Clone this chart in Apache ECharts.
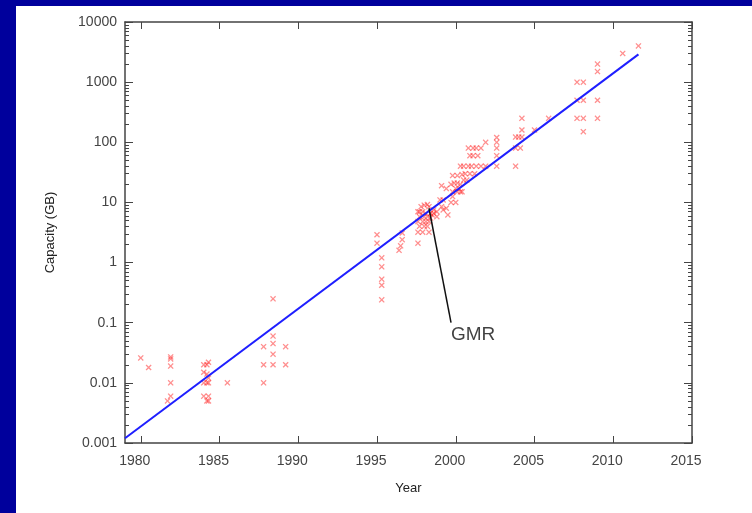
<!DOCTYPE html>
<html>
<head>
<meta charset="utf-8">
<script src="https://cdn.jsdelivr.net/npm/echarts@6/dist/echarts.min.js"></script>
<style>
  html, body { margin: 0; padding: 0; background: #00009c; }
  #panel { position: absolute; left: 16px; top: 6px; right: 0; bottom: 0; background: #fff; }
  #chart { position: absolute; left: 0; top: 0; width: 752px; height: 513px; }
</style>
</head>
<body>
<div id="panel"></div>
<div id="chart"></div>
<script>
// hard drive capacities, [year, GB]
var drives1980s = [
  [1980.0, 0.026], [1980.5, 0.018],
  [1981.9, 0.027], [1981.9, 0.025], [1981.9, 0.019], [1981.9, 0.01], [1981.9, 0.006], [1981.7, 0.005],
  [1984.0, 0.02], [1984.2, 0.02], [1984.3, 0.022], [1984.0, 0.015], [1984.2, 0.014], [1984.3, 0.012],
  [1984.0, 0.01], [1984.2, 0.01], [1984.3, 0.01], [1984.0, 0.006], [1984.3, 0.006], [1984.2, 0.005], [1984.3, 0.005],
  [1985.5, 0.01],
  [1987.8, 0.04], [1987.8, 0.02], [1987.8, 0.01],
  [1988.4, 0.25], [1988.4, 0.06], [1988.4, 0.045], [1988.4, 0.03], [1988.4, 0.02],
  [1989.2, 0.04], [1989.2, 0.02]
]
var drives1990s = [
  [1995.0, 2.9], [1995.0, 2.1], [1995.3, 1.2], [1995.3, 0.85], [1995.3, 0.53], [1995.3, 0.42], [1995.3, 0.24],
  [1996.6, 3.1], [1996.6, 2.4], [1996.5, 1.9], [1996.4, 1.6],
  [1997.6, 2.1],
  [1997.6, 7], [1997.8, 8.5], [1998.0, 9], [1998.2, 9.2], [1998.3, 8.5],
  [1997.7, 7], [1997.9, 7], [1998.1, 6.6], [1998.4, 6.6], [1998.6, 6.6],
  [1997.7, 5.8], [1998.0, 5.8], [1998.2, 5.8], [1998.4, 5.5],
  [1997.6, 4.8], [1997.9, 4.8], [1998.1, 4.8], [1998.3, 4.8],
  [1997.7, 4], [1998.0, 4], [1998.2, 4],
  [1997.6, 3.2], [1997.9, 3.2], [1998.3, 3.2],
  [1998.6, 7.5], [1998.8, 7], [1998.5, 6.2], [1998.8, 5.8],
  [1999.1, 8.5], [1999.2, 7.5], [1999.4, 8], [1999.5, 6.2], [1999.0, 11], [1999.2, 11],
  [1999.7, 10], [1999.8, 12.5], [1999.8, 15], [1999.7, 20], [1999.9, 21],
  [1999.1, 19], [1999.4, 17], [1999.8, 28]
]
var drives2000s = [
  [2000.0, 10], [2000.1, 15], [2000.3, 15], [2000.4, 15],
  [2000.1, 21], [2000.3, 20], [2000.0, 17], [2000.2, 17], [2000.5, 23.5], [2000.7, 23.5],
  [2000.1, 28], [2000.4, 29], [2000.6, 30], [2000.9, 30], [2001.2, 30],
  [2000.3, 40], [2000.5, 40], [2000.8, 40], [2001.0, 40], [2001.3, 40], [2001.6, 40], [2001.9, 40],
  [2000.9, 60], [2001.1, 60], [2001.4, 60], [2002.6, 60],
  [2000.8, 80], [2001.1, 80], [2001.3, 80], [2001.6, 80],
  [2001.9, 100], [2002.6, 120], [2002.6, 100], [2002.6, 80], [2002.6, 40],
  [2003.8, 122], [2004.0, 122], [2004.2, 122], [2003.8, 80], [2004.1, 80],
  [2004.2, 250], [2004.2, 160], [2003.8, 40]
]
var drives2005on = [
  [2005.0, 160], [2005.9, 250],
  [2007.7, 1000], [2008.1, 1000], [2007.7, 500], [2008.1, 500], [2009.0, 500],
  [2007.7, 250], [2008.1, 250], [2009.0, 250], [2008.1, 150],
  [2009.0, 2000], [2009.0, 1500], [2010.6, 3000], [2011.6, 4000]
]

// fitted trend line
var trendYears = [1979, 2011.6]
var trendGB = [0.0012, 2900]

// GMR annotation
var gmrLine = [[1998.3, 8], [1999.7, 0.1]]
var gmrLabel = [2001.1, 0.063]

var xTicks = [1980, 1985, 1990, 1995, 2000, 2005, 2010, 2015]
var yTicks = [0.001, 0.01, 0.1, 1, 10, 100, 1000, 10000]

var yMinor = []
for (var i = 0; i < yTicks.length - 1; i++) {
  for (var m = 2; m <= 9; m++) {
    yMinor.push(Number((yTicks[i] * m).toPrecision(3)))
  }
}

var allDrives = drives1980s.concat(drives1990s, drives2000s, drives2005on)
var trendData = trendYears.map(function (y, i) { return [y, trendGB[i]] })

var axisColor = '#444'
var crossPath = 'path://M0,1.5L1.5,0L5,3.5L8.5,0L10,1.5L6.5,5L10,8.5L8.5,10L5,6.5L1.5,10L0,8.5L3.5,5Z'

function yAxisDef (pos, minor) {
  return {
    type: 'log',
    logBase: 10,
    min: 0.001,
    max: 10000,
    position: pos,
    name: (pos === 'left' && !minor) ? 'Capacity (GB)' : '',
    nameLocation: 'middle',
    nameGap: 68,
    nameTextStyle: { fontSize: 13, color: '#222', fontFamily: 'Liberation Sans' },
    axisLine: { show: !minor, lineStyle: { color: axisColor, width: 1.5 } },
    axisTick: minor
      ? { show: true, inside: true, length: 4, customValues: yMinor, lineStyle: { color: axisColor } }
      : { show: true, inside: true, length: 8, customValues: yTicks, lineStyle: { color: axisColor } },
    axisLabel: {
      show: pos === 'left' && !minor,
      customValues: yTicks,
      fontSize: 14,
      color: '#444',
      fontFamily: 'Liberation Sans',
      margin: 8,
      formatter: function (v) { return String(Number(v.toPrecision(1))) }
    },
    splitLine: { show: false }
  }
}

function xAxisDef (pos) {
  return {
    type: 'value',
    min: 1979,
    max: 2015,
    position: pos,
    name: pos === 'bottom' ? 'Year' : '',
    nameLocation: 'middle',
    nameGap: 39,
    nameTextStyle: { fontSize: 13, color: '#222', fontFamily: 'Liberation Sans' },
    axisLine: { show: true, onZero: false, lineStyle: { color: axisColor, width: 1.5 } },
    axisTick: { show: true, inside: true, length: 7, customValues: xTicks, lineStyle: { color: axisColor } },
    axisLabel: {
      show: pos === 'bottom',
      customValues: xTicks,
      fontSize: 14,
      color: '#444',
      fontFamily: 'Liberation Sans',
      margin: 11,
      padding: [0, 12, 0, 0],
      formatter: function (v) { return String(v) }
    },
    splitLine: { show: false }
  }
}

var myChart = echarts.init(document.getElementById('chart'))
var option = {
  animation: false,
  backgroundColor: 'transparent',
  grid: { left: 125, right: 60, top: 22, bottom: 70 },
  xAxis: [xAxisDef('bottom'), xAxisDef('top')],
  yAxis: [yAxisDef('left', false), yAxisDef('right', false), yAxisDef('left', true), yAxisDef('right', true)],
  series: [
    {
      name: 'drives',
      type: 'scatter',
      symbol: crossPath,
      symbolSize: 6,
      itemStyle: { color: 'rgba(255, 20, 20, 0.6)' },
      data: allDrives,
      z: 2
    },
    {
      name: 'trend',
      type: 'line',
      symbol: 'none',
      lineStyle: { color: '#1f1fff', width: 2 },
      data: trendData,
      z: 3
    },
    {
      name: 'gmr',
      type: 'line',
      symbol: 'none',
      lineStyle: { color: '#111', width: 1.5 },
      data: gmrLine,
      z: 4
    },
    {
      name: 'gmrLabel',
      type: 'scatter',
      symbolSize: 0,
      data: [gmrLabel],
      label: {
        show: true,
        position: 'inside',
        formatter: 'GMR',
        fontSize: 19,
        color: '#111',
        fontFamily: 'Liberation Sans'
      },
      z: 5
    }
  ]
}
myChart.setOption(option, true)
</script>
</body>
</html>
